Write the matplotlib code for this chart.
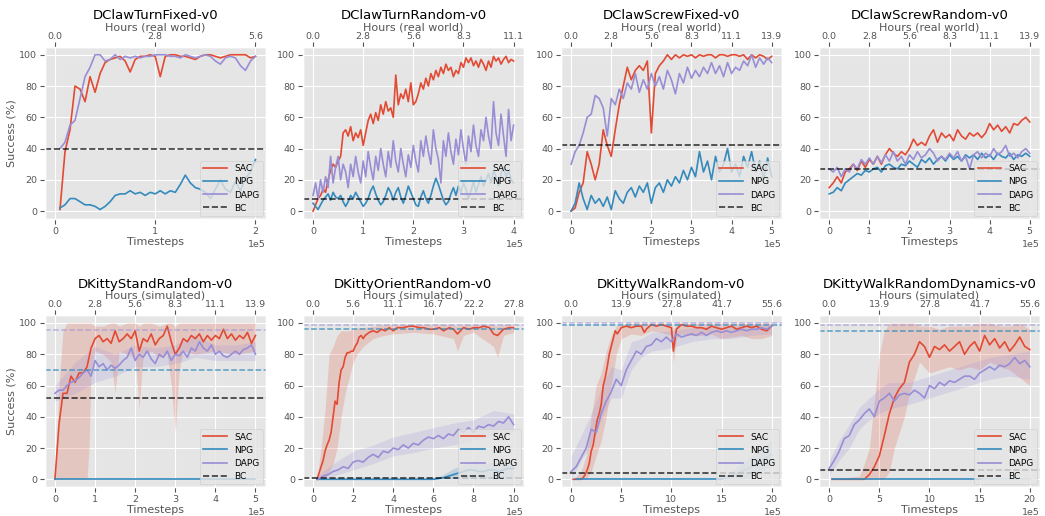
import numpy as np
import matplotlib
matplotlib.use("Agg")
import matplotlib.pyplot as plt

plt.style.use("ggplot")

SAC_C = "#E24A33"
NPG_C = "#348ABD"
DAPG_C = "#988ED5"
STEPS_PER_HOUR = 36000.0

# ---- DClawTurnFixed-v0 (x in 1e5 steps, evenly spaced 0.05..2.0) ----
turnfixed_sac = [1, 38, 52, 80, 78, 70, 86, 76, 88, 95,
                 97, 98, 99, 96, 89, 97, 99, 99, 100, 99,
                 86, 99, 100, 100, 99, 99, 98, 97, 99, 100,
                 100, 99, 98, 99, 100, 100, 100, 100, 98, 99]
turnfixed_npg = [2, 4, 8, 8, 6, 4, 4, 3, 1, 3,
                 6, 10, 11, 11, 13, 11, 12, 10, 12, 11,
                 13, 11, 13, 12, 17, 23, 18, 15, 14, 12,
                 8, 14, 20, 14, 12, 19, 13, 21, 25, 33]
turnfixed_dapg = [40, 44, 55, 58, 72, 86, 92, 100, 100, 96,
                  97, 100, 97, 99, 98, 99, 98, 99, 99, 100,
                  100, 100, 99, 99, 98, 100, 99, 98, 99, 100,
                  99, 96, 94, 98, 99, 98, 93, 90, 96, 99]

# ---- DClawTurnRandom-v0 (0..4, step 0.05) ----
turnrandom_sac = [0, 4, 8, 10, 14, 12, 20, 26, 30, 28,
                  32, 35, 50, 52, 48, 54, 45, 50, 47, 52,
                  42, 50, 58, 62, 56, 63, 58, 68, 62, 70,
                  64, 66, 60, 87, 68, 75, 72, 78, 70, 82,
                  68, 70, 75, 82, 78, 85, 80, 88, 84, 90,
                  86, 92, 88, 94, 90, 92, 86, 90, 88, 95,
                  92, 98, 95, 98, 93, 96, 92, 97, 94, 90,
                  96, 92, 99, 96, 98, 94, 97, 99, 95, 97,
                  96]
turnrandom_npg = [5, 3, 1, 4, 7, 9, 11, 7, 12, 9,
                  8, 10, 6, 3, 6, 10, 8, 12, 9, 6,
                  3, 5, 8, 13, 16, 11, 7, 4, 6, 10,
                  15, 12, 7, 12, 15, 9, 5, 10, 16, 12,
                  8, 4, 3, 9, 13, 8, 5, 10, 16, 21,
                  17, 12, 7, 4, 6, 11, 15, 10, 16, 12,
                  18, 14, 8, 13, 19, 12, 17, 22, 16, 20,
                  24, 18, 26, 22, 16, 24, 28, 22, 26, 20,
                  18]
turnrandom_dapg = [10, 18, 8, 20, 12, 22, 15, 35, 18, 28,
                   35, 20, 30, 25, 15, 30, 22, 35, 25, 18,
                   32, 22, 38, 28, 20, 35, 26, 40, 30, 22,
                   38, 28, 45, 32, 25, 40, 30, 22, 36, 28,
                   42, 32, 25, 45, 35, 48, 38, 30, 52, 40,
                   33, 18, 45, 35, 50, 38, 30, 46, 36, 52,
                   40, 30, 48, 38, 55, 42, 35, 52, 45, 60,
                   48, 40, 70, 50, 42, 62, 48, 35, 65, 45,
                   55]

# ---- DClawScrewFixed-v0 (0..5, step 0.1) ----
screwfixed_sac = [0, 2, 12, 18, 38, 30, 20, 30, 52, 42,
                  35, 52, 68, 80, 92, 84, 90, 93, 90, 96,
                  50, 88, 93, 96, 100, 97, 100, 98, 100, 99,
                  100, 98, 100, 99, 100, 100, 98, 100, 100, 99,
                  100, 100, 99, 100, 97, 100, 98, 100, 99, 97,
                  99]
screwfixed_npg = [0, 5, 18, 8, 1, 10, 5, 8, 3, 9,
                  1, 13, 8, 5, 12, 15, 9, 16, 12, 18,
                  5, 15, 18, 12, 20, 16, 22, 18, 26, 20,
                  28, 22, 38, 25, 32, 20, 35, 25, 30, 40,
                  25, 30, 22, 35, 28, 38, 25, 32, 20, 34,
                  22]
screwfixed_dapg = [30, 38, 42, 50, 60, 62, 74, 72, 66, 48,
                   72, 68, 78, 72, 82, 78, 88, 76, 84, 78,
                   88, 80, 86, 78, 90, 84, 75, 88, 82, 92,
                   85, 90, 86, 92, 88, 95, 88, 93, 86, 95,
                   88, 92, 90, 96, 93, 100, 92, 98, 94, 98,
                   95]

# ---- DClawScrewRandom-v0 (0..5, step 0.1) ----
screwrandom_sac = [15, 18, 22, 18, 25, 27, 30, 26, 32, 28,
                   33, 30, 35, 30, 36, 40, 37, 35, 38, 36,
                   40, 46, 42, 44, 42, 48, 52, 44, 50, 47,
                   49, 45, 52, 48, 46, 50, 48, 50, 47, 50,
                   56, 52, 55, 51, 54, 50, 56, 55, 58, 60,
                   57]
screwrandom_npg = [11, 12, 15, 13, 18, 20, 22, 24, 23, 26,
                   25, 27, 28, 25, 29, 30, 28, 27, 30, 29,
                   32, 30, 28, 33, 31, 34, 30, 33, 35, 32,
                   36, 33, 35, 32, 36, 34, 36, 33, 37, 34,
                   36, 33, 37, 35, 34, 37, 33, 36, 35, 37,
                   35]
screwrandom_dapg = [27, 25, 28, 22, 27, 25, 30, 27, 33, 30,
                    34, 30, 35, 31, 36, 32, 38, 32, 35, 30,
                    36, 33, 38, 34, 36, 40, 37, 32, 35, 33,
                    37, 34, 38, 32, 35, 27, 36, 38, 34, 37,
                    35, 40, 36, 38, 42, 35, 37, 34, 38, 40,
                    37]

# ---- DKittyStandRandom-v0 (0..5, step 0.1) ----
stand_sac = [0, 35, 55, 55, 66, 62, 68, 68, 72, 84,
             90, 92, 88, 90, 87, 95, 88, 90, 93, 90,
             95, 82, 90, 88, 93, 86, 90, 92, 98, 88,
             80, 84, 90, 88, 92, 90, 93, 88, 92, 89,
             92, 90, 96, 90, 93, 89, 92, 90, 94, 87,
             92]
stand_dapg = [55, 57, 57, 60, 62, 63, 65, 68, 70, 66,
              76, 72, 74, 70, 73, 71, 73, 76, 78, 84,
              76, 80, 78, 82, 77, 74, 80, 78, 82, 76,
              80, 79, 82, 78, 84, 82, 88, 84, 82, 86,
              80, 82, 79, 78, 80, 82, 80, 83, 84, 86,
              80]
stand_sac_band_x = [0.02, 0.1, 0.2, 0.3, 0.4, 0.5, 0.6, 0.7, 0.8, 0.85,
                    0.9, 1.0, 1.2, 1.4, 1.5, 1.6, 1.8, 2.0, 2.1, 2.2,
                    2.4, 2.6, 2.8, 2.9, 3.0, 3.1, 3.2, 3.5, 4.0, 4.5, 5.0]
stand_sac_lo = [0, 0, 0, 0, 0, 0, 0, 0, 0, 20,
                70, 82, 80, 75, 55, 82, 80, 78, 45, 80,
                82, 78, 80, 60, 30, 70, 82, 80, 82, 80, 82]
stand_sac_hi = [5, 60, 95, 100, 100, 100, 100, 100, 100, 100,
                100, 98, 98, 100, 100, 98, 100, 100, 98, 100,
                100, 98, 100, 100, 98, 100, 100, 100, 100, 100, 100]
stand_dapg_band_x = [0, 0.5, 1.0, 1.5, 2.0, 2.5, 3.0, 3.5, 4.0, 4.5, 5.0]
stand_dapg_lo = [50, 55, 62, 66, 72, 72, 74, 78, 76, 76, 76]
stand_dapg_hi = [60, 75, 85, 80, 86, 84, 86, 92, 86, 86, 88]

# ---- DKittyOrientRandom-v0 ----
orient_sac_x = [0.2, 0.3, 0.4, 0.5, 0.6, 0.7, 0.8, 0.9, 1.0, 1.1,
                1.2, 1.3, 1.4, 1.5, 1.6, 1.7, 1.8, 1.9, 2.0, 2.1,
                2.2, 2.3, 2.4, 2.5, 2.6, 2.8, 3.0, 3.2, 3.4, 3.6,
                3.8, 4.0, 4.2, 4.5, 4.8, 5.0, 5.3, 5.5, 5.8, 6.0,
                6.3, 6.5, 6.8, 7.0, 7.2, 7.5, 7.8, 8.0, 8.3, 8.5,
                8.8, 9.0, 9.2, 9.5, 9.8, 10.0]
orient_sac = [0, 4, 8, 12, 18, 22, 25, 30, 40, 50,
              48, 62, 70, 72, 78, 81, 81, 82, 82, 85,
              87, 91, 92, 90, 92, 94, 95, 94, 96, 95,
              97, 95, 97, 97, 98, 98, 97, 97, 96, 96,
              97, 95, 97, 96, 93, 97, 96, 97, 97, 98,
              97, 93, 92, 96, 97, 97]
orient_dapg = [0, 2, 3, 5, 6, 8, 7, 11, 12, 11,
               14, 16, 14, 18, 17, 20, 19, 22, 20, 23,
               22, 25, 27, 26, 28, 26, 29, 28, 32, 30,
               33, 30, 34, 33, 35, 34, 37, 36, 40, 35]
orient_npg_x = [0.2, 6.0, 6.25, 6.5, 6.75, 7.0, 7.25, 7.5, 7.75, 8.0,
                8.25, 8.5, 8.75, 9.0, 9.25, 9.5, 9.75, 10.0]
orient_npg = [0, 0, 0.5, 1, 2, 3, 4, 5, 6, 6,
              5, 5, 6, 6, 5, 6, 7, 7]
orient_sac_band_x = [0.2, 0.4, 0.6, 0.8, 1.0, 1.2, 1.4, 1.6, 1.8, 2.0,
                     2.2, 2.5, 3.0, 3.5, 4.0, 5.0, 6.0, 7.0, 7.2, 7.5,
                     8.0, 9.0, 9.2, 9.5, 10.0]
orient_sac_lo = [0, 0, 0, 5, 10, 20, 40, 55, 65, 75,
                 80, 85, 90, 92, 93, 94, 93, 90, 82, 92,
                 94, 85, 78, 92, 94]
orient_sac_hi = [0, 20, 45, 80, 85, 92, 95, 95, 95, 96,
                 97, 97, 98, 99, 99, 99, 99, 99, 98, 99,
                 99, 99, 98, 99, 99]
orient_dapg_band_x = [0.2, 1, 2, 3, 4, 5, 6, 7, 8, 9, 10]
orient_dapg_lo = [0, 2, 6, 10, 15, 17, 20, 22, 25, 28, 30]
orient_dapg_hi = [2, 10, 18, 22, 27, 30, 33, 36, 38, 44, 42]
orient_npg_band_x = [6, 6.5, 7, 7.5, 8, 8.5, 9, 9.5, 10]
orient_npg_lo = [0, 0, 0, 0, 0, 0, 0, 0, 0]
orient_npg_hi = [0, 3, 7, 9, 12, 10, 11, 12, 12]

# ---- DKittyWalkRandom-v0 ----
walk_sac_x = [0.2, 0.5, 1.0, 1.2, 1.4, 1.6, 1.8, 2.0, 2.2, 2.4,
              2.6, 2.8, 3.0, 3.2, 3.4, 3.6, 3.8, 4.0, 4.2, 4.4,
              4.6, 4.8, 5.0, 5.5, 6.0, 6.5, 7.0, 7.3, 7.5, 8.0,
              8.5, 9.0, 9.5, 10.0, 10.2, 10.5, 11.0, 11.5, 12.0, 12.5,
              13.0, 13.5, 14.0, 14.5, 15.0, 15.5, 16.0, 16.5, 17.0, 17.5,
              18.0, 18.5, 19.0, 19.5, 20.0]
walk_sac = [0, 0, 0, 1, 3, 6, 10, 18, 22, 30,
            38, 42, 48, 60, 65, 72, 80, 85, 90, 95,
            93, 95, 97, 98, 97, 98, 98, 94, 96, 99,
            98, 99, 98, 97, 82, 96, 99, 98, 98, 97,
            97, 96, 98, 97, 96, 97, 98, 96, 97, 98,
            97, 98, 96, 95, 98]
walk_dapg = [5, 8, 14, 20, 32, 30, 42, 50, 56, 64,
             60, 70, 76, 82, 80, 85, 86, 90, 88, 91,
             88, 93, 91, 92, 93, 92, 94, 92, 94, 95,
             94, 95, 94, 95, 96, 95, 96, 96, 97, 96,
             98]
walk_npg_x = [0.5, 15.0]
walk_npg = [0, 0]
walk_npg_tail_x = [15.0, 16.0, 17.0, 18.0, 19.0, 20.0]
walk_npg_tail = [0, 2, 5, 8, 12, 16]
walk_sac_band_x = [0.2, 1, 1.5, 2, 2.5, 3, 3.5, 4, 4.5, 5,
                   6, 7, 8, 9, 10, 10.2, 10.5, 11, 12, 13,
                   14, 15, 16, 17, 18, 19, 20]
walk_sac_lo = [0, 0, 0, 5, 15, 25, 40, 60, 80, 90,
               93, 92, 95, 94, 92, 75, 90, 93, 92, 92,
               93, 90, 91, 92, 90, 90, 92]
walk_sac_hi = [0, 5, 15, 40, 60, 68, 82, 92, 98, 99,
               100, 100, 100, 100, 100, 95, 100, 100, 100, 100,
               100, 100, 100, 100, 100, 100, 100]
walk_dapg_band_x = [0, 1, 2, 3, 4, 5, 6, 7, 8, 10, 12, 14, 16, 18, 20]
walk_dapg_lo = [0, 12, 22, 38, 52, 52, 70, 78, 82, 84, 88, 90, 90, 92, 93]
walk_dapg_hi = [15, 28, 42, 58, 72, 70, 88, 90, 94, 95, 97, 98, 98, 99, 99]
walk_npg_band_x = [15, 16, 17, 18, 19, 20]
walk_npg_lo = [0, 0, 0, 2, 5, 10]
walk_npg_hi = [0, 5, 10, 15, 20, 25]

# ---- DKittyWalkRandomDynamics-v0 ----
dyn_sac_x = [0.3, 3.5, 4.0, 4.5, 5.0, 5.5, 6.0, 6.5, 7.0, 7.5,
             8.0, 8.5, 9.0, 9.5, 10.0, 10.5, 11.0, 11.5, 12.0, 12.5,
             13.0, 13.5, 14.0, 14.5, 15.0, 15.5, 16.0, 16.5, 17.0, 17.5,
             18.0, 18.5, 19.0, 19.5, 20.0]
dyn_sac = [0, 0, 3, 8, 15, 28, 42, 52, 58, 62,
           75, 80, 88, 85, 78, 85, 83, 86, 82, 85,
           88, 80, 85, 88, 82, 92, 86, 90, 84, 88,
           82, 86, 91, 85, 83]
dyn_dapg = [7, 12, 18, 26, 28, 35, 38, 42, 45, 40,
            50, 52, 55, 50, 54, 55, 54, 57, 55, 52,
            60, 58, 62, 60, 63, 62, 64, 66, 66, 64,
            68, 70, 72, 70, 73, 72, 74, 78, 74, 76,
            72]
dyn_npg_x = [0.3, 15.0]
dyn_npg = [0, 0]
dyn_npg_tail_x = [15.0, 20.0]
dyn_npg_tail = [0, 0]
dyn_sac_band_x = [0.2, 3.0, 3.5, 4, 4.5, 5, 5.5, 6, 6.5, 7,
                  7.5, 8, 8.5, 9, 10, 11, 12, 13, 14, 15,
                  16, 17, 18, 19, 20]
dyn_sac_lo = [0, 0, 0, 0, 0, 0, 0, 5, 20, 30,
              40, 55, 65, 75, 68, 70, 72, 70, 72, 70,
              75, 72, 70, 65, 60]
dyn_sac_hi = [0, 2, 10, 20, 50, 80, 95, 100, 100, 100,
              100, 100, 100, 98, 98, 96, 98, 98, 98, 100,
              100, 98, 98, 100, 96]
dyn_dapg_band_x = [0, 1, 2, 3, 4, 5, 6, 8, 10, 12, 14, 16, 18, 20]
dyn_dapg_lo = [3, 12, 20, 32, 38, 42, 45, 48, 52, 56, 60, 64, 66, 64]
dyn_dapg_hi = [12, 25, 35, 46, 52, 58, 62, 62, 66, 70, 74, 78, 80, 82]

titles = ["DClawTurnFixed-v0", "DClawTurnRandom-v0", "DClawScrewFixed-v0", "DClawScrewRandom-v0",
          "DKittyStandRandom-v0", "DKittyOrientRandom-v0", "DKittyWalkRandom-v0",
          "DKittyWalkRandomDynamics-v0"]
x_max = [2, 4, 5, 5, 5, 10, 20, 20]
x_step = [1, 1, 1, 1, 1, 2, 5, 5]
bc_level = [40, 8, 42, 27, 52, 1, 4, 6]
npg_asym = [None, None, None, None, 70, 96, 98.5, 95]
dapg_asym = [None, None, None, None, 95.5, 99, 100, 99]


def grid(x0, x1, vals):
    return np.linspace(x0, x1, len(vals))


series = [
    dict(sac=(grid(0.05, 2.0, turnfixed_sac), turnfixed_sac),
         npg=(grid(0.05, 2.0, turnfixed_npg), turnfixed_npg),
         dapg=(grid(0.05, 2.0, turnfixed_dapg), turnfixed_dapg)),
    dict(sac=(grid(0, 4, turnrandom_sac), turnrandom_sac),
         npg=(grid(0, 4, turnrandom_npg), turnrandom_npg),
         dapg=(grid(0, 4, turnrandom_dapg), turnrandom_dapg)),
    dict(sac=(grid(0, 5, screwfixed_sac), screwfixed_sac),
         npg=(grid(0, 5, screwfixed_npg), screwfixed_npg),
         dapg=(grid(0, 5, screwfixed_dapg), screwfixed_dapg)),
    dict(sac=(grid(0, 5, screwrandom_sac), screwrandom_sac),
         npg=(grid(0, 5, screwrandom_npg), screwrandom_npg),
         dapg=(grid(0, 5, screwrandom_dapg), screwrandom_dapg)),
    dict(sac=(grid(0, 5, stand_sac), stand_sac),
         npg=([0, 5], [0, 0]),
         dapg=(grid(0, 5, stand_dapg), stand_dapg),
         sac_band=(stand_sac_band_x, stand_sac_lo, stand_sac_hi),
         dapg_band=(stand_dapg_band_x, stand_dapg_lo, stand_dapg_hi)),
    dict(sac=(orient_sac_x, orient_sac),
         npg=(orient_npg_x, orient_npg),
         dapg=(grid(0.25, 10, orient_dapg), orient_dapg),
         sac_band=(orient_sac_band_x, orient_sac_lo, orient_sac_hi),
         dapg_band=(orient_dapg_band_x, orient_dapg_lo, orient_dapg_hi),
         npg_band=(orient_npg_band_x, orient_npg_lo, orient_npg_hi)),
    dict(sac=(walk_sac_x, walk_sac),
         npg=(walk_npg_x, walk_npg),
         npg_tail=(walk_npg_tail_x, walk_npg_tail),
         dapg=(grid(0, 20, walk_dapg), walk_dapg),
         sac_band=(walk_sac_band_x, walk_sac_lo, walk_sac_hi),
         dapg_band=(walk_dapg_band_x, walk_dapg_lo, walk_dapg_hi),
         npg_band=(walk_npg_band_x, walk_npg_lo, walk_npg_hi)),
    dict(sac=(dyn_sac_x, dyn_sac),
         npg=(dyn_npg_x, dyn_npg),
         npg_tail=(dyn_npg_tail_x, dyn_npg_tail),
         dapg=(grid(0, 20, dyn_dapg), dyn_dapg),
         sac_band=(dyn_sac_band_x, dyn_sac_lo, dyn_sac_hi),
         dapg_band=(dyn_dapg_band_x, dyn_dapg_lo, dyn_dapg_hi)),
]

fig, axes = plt.subplots(2, 4, figsize=(10.45, 5.16), dpi=100)
fig.subplots_adjust(left=0.043, right=0.995, top=0.909, bottom=0.056, wspace=0.17, hspace=0.56)

S = 1e5
for i, ax in enumerate(axes.flat):
    d = series[i]
    xm = x_max[i]

    for key, col in (("sac_band", SAC_C), ("dapg_band", DAPG_C), ("npg_band", NPG_C)):
        if key in d:
            bx, lo, hi = d[key]
            ax.fill_between(np.asarray(bx) * S, lo, hi, color=col, alpha=0.2, lw=0)

    ax.plot(np.asarray(d["sac"][0]) * S, d["sac"][1], color=SAC_C, lw=1.2, label="SAC")
    ax.plot(np.asarray(d["npg"][0]) * S, d["npg"][1], color=NPG_C, lw=1.2, label="NPG")
    if "npg_tail" in d:
        ax.plot(np.asarray(d["npg_tail"][0]) * S, d["npg_tail"][1], color=NPG_C, lw=1.2, alpha=0.35)
    ax.plot(np.asarray(d["dapg"][0]) * S, d["dapg"][1], color=DAPG_C, lw=1.2, label="DAPG")

    if npg_asym[i] is not None:
        ax.axhline(npg_asym[i], color=NPG_C, ls="--", lw=1.1, alpha=0.8)
        ax.axhline(dapg_asym[i], color=DAPG_C, ls="--", lw=1.1, alpha=0.6)
    ax.axhline(bc_level[i], color="k", ls="--", lw=1.2, alpha=0.75, label="BC")

    ax.set_xlim(-0.05 * xm * S, 1.05 * xm * S)
    ax.set_ylim(-5, 105)
    ticks = np.arange(0, xm + 0.001, x_step[i]) * S
    ax.set_xticks(ticks)
    ax.set_yticks([0, 20, 40, 60, 80, 100])
    ax.ticklabel_format(axis="x", style="sci", scilimits=(5, 5))
    ax.tick_params(labelsize=6.8, pad=2)
    ax.xaxis.get_offset_text().set_fontsize(6.8)
    ax.set_xlabel("Timesteps", fontsize=8, labelpad=1)
    if i % 4 == 0:
        ax.set_ylabel("Success (%)", fontsize=8, labelpad=2)

    ax.legend(loc="lower right", fontsize=6.5, handlelength=2.6, borderaxespad=0.3,
              labelspacing=0.45, borderpad=0.4)

    top = ax.twiny()
    top.set_xlim(ax.get_xlim())
    top.set_xticks(ticks)
    top.set_xticklabels([f"{t / STEPS_PER_HOUR:.1f}" for t in ticks])
    top.tick_params(labelsize=6.8, pad=1)
    top.grid(False)
    hours = "Hours (real world)" if i < 4 else "Hours (simulated)"
    top.set_xlabel(hours, fontsize=8, labelpad=1)

    ax.set_title(titles[i], fontsize=9.5, pad=2)

fig.savefig("out.png", dpi=100)
